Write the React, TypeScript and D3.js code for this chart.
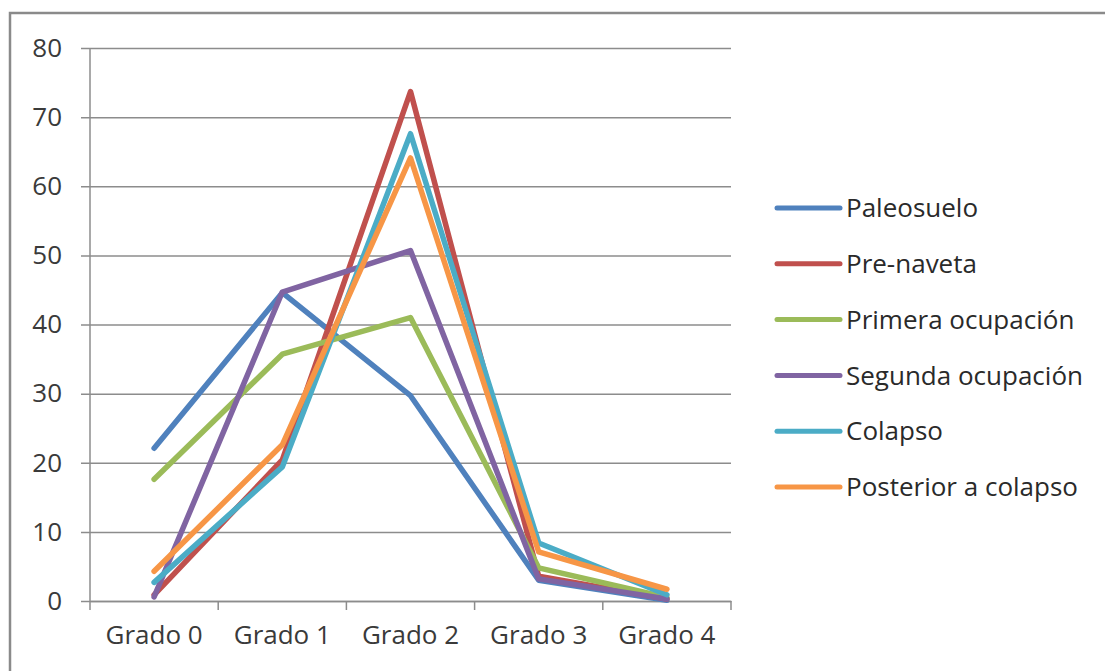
import React, { useRef, useEffect } from 'react';
import * as d3 from 'd3';

const categories = ['Grado 0', 'Grado 1', 'Grado 2', 'Grado 3', 'Grado 4'];
const seriesNames = ['Paleosuelo', 'Pre-naveta', 'Primera ocupación', 'Segunda ocupación', 'Colapso', 'Posterior a colapso'];
const seriesColors = ['#4F81BD', '#C0504D', '#9BBB59', '#8064A2', '#4BACC6', '#F79646'];

const paleosuelo = [22.1, 44.6, 29.7, 3.0, 0.1];
const preNaveta = [0.9, 20.4, 73.7, 3.6, 0.3];
const primeraOcupacion = [17.6, 35.7, 41.0, 4.8, 0.5];
const segundaOcupacion = [0.6, 44.7, 50.7, 3.2, 0.3];
const colapso = [2.7, 19.4, 67.6, 8.4, 0.9];
const posteriorColapso = [4.3, 22.6, 64.1, 7.1, 1.7];

const seriesValues = [paleosuelo, preNaveta, primeraOcupacion, segundaOcupacion, colapso, posteriorColapso];
const yTicks = [0, 10, 20, 30, 40, 50, 60, 70, 80];

const width = 1105;
const height = 671;
const FONT = '"Open Sans", Lato, sans-serif';

export default function App() {
    const svgRef = useRef<SVGSVGElement>(null);

    useEffect(() => {
        document.body.style.margin = '0';
        if (!svgRef.current) return;
        const svg = d3.select(svgRef.current);
        svg.selectAll('*').remove();

        // outer frame (cut off at right and bottom like the source)
        svg.append('rect')
            .attr('x', 10).attr('y', 13)
            .attr('width', 1110).attr('height', 680)
            .attr('fill', 'white')
            .attr('stroke', '#8a8a8a')
            .attr('stroke-width', 2.5);

        const margin = { top: 48, left: 90 };
        const plotW = 641;
        const plotH = 553;

        const x = d3.scaleBand<string>().domain(categories).range([margin.left, margin.left + plotW]);
        const y = d3.scaleLinear().domain([0, 80]).range([margin.top + plotH, margin.top]);

        const gridColor = '#8c8c8c';

        // grid + y axis
        const yAxis = d3.axisLeft(y).tickValues(yTicks).tickSize(-plotW).tickPadding(28)
            .tickFormat(d => `${d}`);
        const gy = svg.append('g').attr('transform', `translate(${margin.left},0)`).call(yAxis);
        gy.select('.domain').remove();
        gy.selectAll('.tick line')
            .attr('x1', -9)
            .attr('stroke', gridColor).attr('stroke-width', 1.5);
        gy.selectAll('.tick text')
            .attr('font-family', FONT).attr('font-size', 26).attr('fill', '#3a3a3a');

        svg.append('line')
            .attr('x1', margin.left).attr('x2', margin.left)
            .attr('y1', margin.top).attr('y2', margin.top + plotH)
            .attr('stroke', gridColor).attr('stroke-width', 1.5);

        // x axis
        const xAxis = d3.axisBottom(x).tickSize(0).tickPadding(25);
        const gx = svg.append('g').attr('transform', `translate(0,${margin.top + plotH})`).call(xAxis);
        gx.select('.domain').attr('stroke', gridColor).attr('stroke-width', 1.5);
        gx.selectAll('.tick text')
            .attr('font-family', FONT).attr('font-size', 26).attr('fill', '#3a3a3a');
        const edges = categories.map(c => x(c) as number).concat([margin.left + plotW]);
        gx.selectAll('line.edge').data(edges).enter().append('line')
            .attr('x1', d => d).attr('x2', d => d)
            .attr('y1', 0).attr('y2', 9)
            .attr('stroke', gridColor).attr('stroke-width', 1.5);

        // lines
        const line = d3.line<number>()
            .x((_, i) => (x(categories[i]) as number) + x.bandwidth() / 2)
            .y(d => y(d));

        seriesValues.forEach((vals, i) => {
            svg.append('path')
                .datum(vals)
                .attr('fill', 'none')
                .attr('stroke', seriesColors[i])
                .attr('stroke-width', 5.5)
                .attr('stroke-linejoin', 'round')
                .attr('stroke-linecap', 'round')
                .attr('d', line);
        });

        // legend
        const legend = svg.append('g').attr('transform', 'translate(777,208)');
        seriesNames.forEach((name, i) => {
            const row = legend.append('g').attr('transform', `translate(0,${i * 55.8})`);
            row.append('line')
                .attr('x1', 0).attr('x2', 63)
                .attr('stroke', seriesColors[i]).attr('stroke-width', 5)
                .attr('stroke-linecap', 'round');
            row.append('text')
                .attr('x', 69).attr('y', 0).attr('dy', '0.35em')
                .attr('font-family', FONT).attr('font-size', 26).attr('fill', '#2a2a2a')
                .text(name);
        });
    }, []);

    return <svg ref={svgRef} width={width} height={height} style={{ display: 'block' }} />;
}
